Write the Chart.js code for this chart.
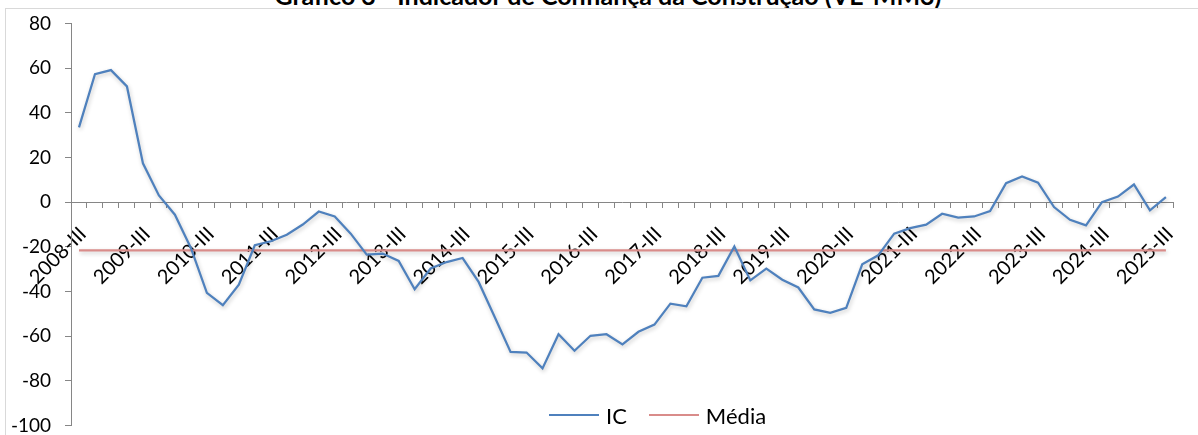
<!DOCTYPE html>
<html lang="pt">
<head>
<meta charset="utf-8">
<title>Indicador de Confiança da Construção</title>
<script src="https://cdn.jsdelivr.net/npm/chart.js@4.4.1/dist/chart.umd.min.js"></script>
<style>
  html, body { margin: 0; padding: 0; background: #fff; overflow: hidden; }
  body { width: 1198px; height: 435px; position: relative; font-family: Lato, "Open Sans", sans-serif; }
  #title {
    position: absolute; left: 0; top: -17px; width: 1216px;
    text-align: center; font-weight: bold; font-size: 25px; line-height: 25px;
    color: #000; white-space: nowrap;
  }
  #frame {
    position: absolute; left: 5px; top: 8px; width: 1200px; height: 440px;
    border: 1px solid #d9d9d9;
  }
  #chart { position: absolute; left: 0; top: -11px; }
  #legend {
    position: absolute; left: 549px; top: 401px; height: 28px;
    display: flex; align-items: center; font-size: 22px; color: #000;
  }
  #legend .item { display: flex; align-items: center; margin-right: 22px; }
  #legend .swatch { display: inline-block; width: 50px; height: 2px; margin-right: 7px; }
</style>
</head>
<body>
<div id="title">Gráfico 3 - Indicador de Confiança da Construção (VE-MM3)</div>
<div id="frame">
  <canvas id="chart" width="1192" height="453"></canvas>
</div>
<div id="legend"></div>

<script>
// quarters 2008-III .. 2025-III
const romans = ['I', 'II', 'III', 'IV'];
const quarters = [];
for (let year = 2008; year <= 2025; year++) {
  romans.forEach((q, k) => {
    if ((year === 2008 && k < 2) || (year === 2025 && k > 2)) return;
    quarters.push(year + '-' + q);
  });
}

// IC (VE-MM3)
const icValues = [
  33.5, 57.3, 59.1, 51.8, 17.4, 3.0, -5.6, -20.5, -40.6, -46.1,
  -36.9, -19.3, -17.5, -14.6, -10.0, -4.2, -6.4, -14.1, -23.5, -23.0,
  -26.3, -39.0, -29.7, -26.8, -25.0, -35.7, -51.3, -67.0, -67.3, -74.4,
  -59.1, -66.5, -59.8, -59.1, -63.7, -58.0, -54.8, -45.4, -46.6, -33.8,
  -33.0, -19.8, -35.0, -29.7, -34.7, -38.2, -48.0, -49.5, -47.3, -27.8,
  -23.8, -14.1, -11.6, -10.1, -5.2, -6.9, -6.4, -4.0, 8.5, 11.5,
  8.7, -2.2, -7.9, -10.4, 0.0, 2.5, 7.9, -3.7, 2.2
];

const mediaValue = -21.6;
const yTicks = [-100, -80, -60, -40, -20, 0, 20, 40, 60, 80];

const seriesNames = ['IC', 'Média'];
const seriesColors = ['#4f81bd', '#d98c8a'];

const axisColor = '#868686';
const fontFamily = 'Lato, "Open Sans", sans-serif';

const mediaPoints = [
  { x: quarters[0], y: mediaValue },
  { x: quarters[quarters.length - 1], y: mediaValue }
];

// soft shadow under the lines, like the spreadsheet
const lineShadow = {
  id: 'lineShadow',
  beforeDatasetDraw(chart) {
    const ctx = chart.ctx;
    ctx.save();
    ctx.shadowColor = 'rgba(0, 0, 0, 0.22)';
    ctx.shadowBlur = 4;
    ctx.shadowOffsetX = 1;
    ctx.shadowOffsetY = 2;
  },
  afterDatasetDraw(chart) {
    chart.ctx.restore();
  }
};

const ctx = document.getElementById('chart');
new Chart(ctx, {
  type: 'line',
  data: {
    labels: quarters,
    datasets: [
      {
        label: seriesNames[0],
        data: icValues,
        borderColor: seriesColors[0],
        borderWidth: 2.25,
        pointRadius: 0,
        tension: 0,
        fill: false
      },
      {
        label: seriesNames[1],
        data: mediaPoints,
        borderColor: seriesColors[1],
        borderWidth: 2.25,
        pointRadius: 0,
        fill: false
      }
    ]
  },
  options: {
    responsive: false,
    animation: false,
    layout: { padding: { top: 0, left: 0, right: 15, bottom: 0 } },
    plugins: {
      legend: { display: false },
      title: { display: false },
      tooltip: { enabled: false }
    },
    scales: {
      x: {
        type: 'category',
        position: { y: 0 },
        offset: true,
        grid: {
          drawOnChartArea: false,
          offset: true,
          tickLength: 5,
          color: axisColor
        },
        border: { color: axisColor, width: 1 },
        ticks: {
          autoSkip: false,
          minRotation: 45,
          maxRotation: 45,
          padding: 15,
          labelOffset: 4,
          color: '#000',
          font: { family: fontFamily, size: 20 },
          callback: (value, index) => (index % 4 === 0 ? quarters[index] : '')
        }
      },
      y: {
        min: yTicks[0],
        max: yTicks[yTicks.length - 1],
        afterBuildTicks: (scale) => { scale.ticks = yTicks.map(v => ({ value: v })); },
        afterFit: (scale) => { scale.width = 65; },
        grid: { drawOnChartArea: false, tickLength: 6, color: axisColor },
        border: { color: axisColor, width: 1 },
        ticks: {
          padding: 14,
          color: '#000',
          font: { family: fontFamily, size: 19 }
        }
      }
    }
  },
  plugins: [lineShadow]
});

// legend sits over the plot, as in the original
const legend = document.getElementById('legend');
seriesNames.forEach((name, i) => {
  const item = document.createElement('div');
  item.className = 'item';
  const sw = document.createElement('span');
  sw.className = 'swatch';
  sw.style.background = seriesColors[i];
  item.appendChild(sw);
  item.appendChild(document.createTextNode(name));
  legend.appendChild(item);
});
</script>
</body>
</html>
